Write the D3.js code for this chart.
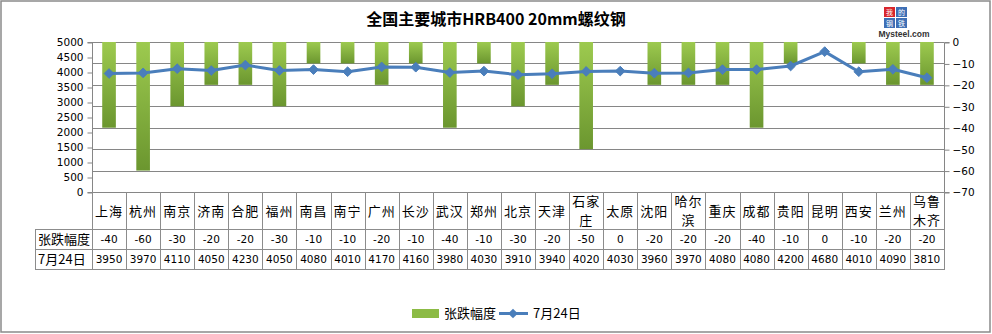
<!DOCTYPE html>
<html>
<head>
<meta charset="utf-8">
<script src="https://cdn.jsdelivr.net/npm/d3@7"></script>
<style>
  html, body { margin: 0; padding: 0; background: #fff; }
  svg { display: block; }
  .num { font-family: "DejaVu Sans", sans-serif; font-size: 10.5px; fill: #000; }
  .cjk { font-family: "Noto Sans CJK SC", sans-serif; font-size: 13px; fill: #000; }
</style>
</head>
<body>
<svg id="chart" width="992" height="334"></svg>
<script>
// Cities along the category axis
const cities = ["上海","杭州","南京","济南","合肥","福州","南昌","南宁","广州","长沙","武汉","郑州","北京","天津","石家庄","太原","沈阳","哈尔滨","重庆","成都","贵阳","昆明","西安","兰州","乌鲁木齐"];
// Daily change (right axis, bars)
const changes = [-40,-60,-30,-20,-20,-30,-10,-10,-20,-10,-40,-10,-30,-20,-50,0,-20,-20,-20,-40,-10,0,-10,-20,-20];
// Price on 7月24日 (left axis, line)
const prices = [3950,3970,4110,4050,4230,4050,4080,4010,4170,4160,3980,4030,3910,3940,4020,4030,3960,3970,4080,4080,4200,4680,4010,4090,3810];
// Axis ticks
const leftTicks = [0,500,1000,1500,2000,2500,3000,3500,4000,4500,5000];
const rightTicks = [0,-10,-20,-30,-40,-50,-60,-70];
const seriesNames = ["张跌幅度", "7月24日"];
const titleText = "全国主要城市HRB400 20mm螺纹钢";

const svg = d3.select("#chart");
const plot = { left: 92, right: 944, top: 42, bottom: 192 };
const rowY = [192, 229, 249, 269];
const tableLeft = 35;
const gridColor = "#868686";
const lineColor = "#4a7ebb";

const x = d3.scaleBand().domain(cities).range([plot.left, plot.right]).padding(0);
const yL = d3.scaleLinear().domain([0, 5000]).range([plot.bottom, plot.top]);
const yR = d3.scaleLinear().domain([-70, 0]).range([plot.bottom, plot.top]);

// Outer frame
svg.append("rect").attr("x", 1).attr("y", 1).attr("width", 989).attr("height", 331)
  .attr("fill", "#fff").attr("stroke", "#8a8a8a").attr("stroke-width", 1.5);

// Bar gradient
const defs = svg.append("defs");
const grad = defs.append("linearGradient").attr("id", "barGrad")
  .attr("x1", 0).attr("y1", 0).attr("x2", 0).attr("y2", 1);
grad.append("stop").attr("offset", "0%").attr("stop-color", "#9dca4f");
grad.append("stop").attr("offset", "100%").attr("stop-color", "#6b962f");

// Title
svg.append("text").attr("x", 496).attr("y", 25).attr("text-anchor", "middle")
  .attr("font-family", "Noto Sans CJK SC, sans-serif").attr("font-size", 16)
  .attr("font-weight", "bold").text(titleText);

// Logo
const logo = svg.append("g").attr("transform", "translate(884,7)");
[["我", "#d8262c", 0, 0], ["的", "#3e6fb5", 12, 0], ["钢", "#3e6fb5", 0, 11], ["铁", "#3e6fb5", 12, 11]].forEach(d => {
  logo.append("rect").attr("x", d[2]).attr("y", d[3]).attr("width", 11).attr("height", 10).attr("fill", d[1]);
  logo.append("text").attr("x", d[2] + 5.5).attr("y", d[3] + 7.5).attr("text-anchor", "middle")
    .attr("font-family", "Noto Sans CJK SC, sans-serif").attr("font-size", 7).attr("fill", "#fff").text(d[0]);
});
svg.append("text").attr("x", 904).attr("y", 37).attr("text-anchor", "middle")
  .attr("font-family", "Liberation Sans, sans-serif").attr("font-size", 8.5).attr("font-weight", "bold")
  .attr("fill", "#333").text("Mysteel.com");

// Horizontal gridlines on the right-axis ticks
svg.append("g").selectAll("line").data(rightTicks).join("line")
  .attr("x1", plot.left).attr("x2", plot.right)
  .attr("y1", d => Math.round(yR(d)) + 0.5).attr("y2", d => Math.round(yR(d)) + 0.5)
  .attr("stroke", gridColor).attr("stroke-width", 1);

// Bars hang from 0 on the reversed right axis
const bw = x.bandwidth() * 0.4;
svg.append("g").selectAll("rect").data(changes).join("rect")
  .attr("x", (d, i) => x(cities[i]) + (x.bandwidth() - bw) / 2)
  .attr("y", yR(0))
  .attr("width", bw)
  .attr("height", d => yR(d) - yR(0))
  .attr("fill", "url(#barGrad)");

// Left axis
const axL = d3.axisLeft(yL).tickValues(leftTicks).tickSize(5).tickPadding(4).tickFormat(d3.format("d"));
const gL = svg.append("g").attr("transform", `translate(${plot.left + 0.5},0.5)`).call(axL);
gL.selectAll("path,line").attr("stroke", gridColor);
gL.selectAll("text").attr("class", "num").attr("font-family", null).attr("font-size", null);

// Right axis
const axR = d3.axisRight(yR).tickValues(rightTicks).tickSize(5).tickPadding(3).tickFormat(d3.format("d"));
const gR = svg.append("g").attr("transform", `translate(${plot.right + 0.5},0.5)`).call(axR);
gR.selectAll("path,line").attr("stroke", gridColor);
gR.selectAll("text").attr("class", "num").attr("font-family", null).attr("font-size", null);
gR.select(".domain").attr("d", `M5,${yR(0)}H0V${yR(-70)}H5`);
gL.select(".domain").attr("d", `M-5,${yL(5000)}H0V${yL(0)}H-5`);

// Price line with diamond markers
const line = d3.line().x((d, i) => x(cities[i]) + x.bandwidth() / 2).y(d => yL(d));
svg.append("path").datum(prices).attr("d", line)
  .attr("fill", "none").attr("stroke", lineColor).attr("stroke-width", 3).attr("stroke-linejoin", "round");
const diamond = d3.symbol().type(d3.symbolDiamond2).size(60);
svg.append("g").selectAll("path").data(prices).join("path")
  .attr("transform", (d, i) => `translate(${x(cities[i]) + x.bandwidth() / 2},${yL(d)})`)
  .attr("d", diamond).attr("fill", lineColor).attr("stroke", lineColor).attr("stroke-width", 1);

// Data table beneath the plot
const tbl = svg.append("g").attr("stroke", "#8c8c8c").attr("stroke-width", 1);
const bounds = cities.map(c => x(c)).concat([plot.right]);
bounds.forEach(bx => {
  tbl.append("line").attr("x1", Math.round(bx) + 0.5).attr("x2", Math.round(bx) + 0.5)
    .attr("y1", rowY[0]).attr("y2", rowY[3]);
});
tbl.append("line").attr("x1", tableLeft + 0.5).attr("x2", tableLeft + 0.5).attr("y1", rowY[1]).attr("y2", rowY[3]);
[rowY[1], rowY[2], rowY[3]].forEach(ry => {
  tbl.append("line").attr("x1", tableLeft).attr("x2", plot.right + 1).attr("y1", ry + 0.5).attr("y2", ry + 0.5);
});

// City header cells (long names wrap after two characters)
const hdr = svg.append("g");
cities.forEach(c => {
  const cx = x(c) + x.bandwidth() / 2;
  const parts = c.length > 2 ? [c.slice(0, 2), c.slice(2)] : [c];
  const mid = (rowY[0] + rowY[1]) / 2;
  const t = hdr.append("text").attr("class", "cjk").attr("x", cx)
    .attr("y", parts.length === 1 ? mid + 5 : mid - 4.5)
    .attr("text-anchor", "middle").attr("letter-spacing", 1);
  parts.forEach((p, k) => {
    t.append("tspan").attr("x", cx).attr("dy", k === 0 ? 0 : 19).text(p);
  });
});

// Row labels and values
const rows = [changes, prices];
rows.forEach((vals, r) => {
  const cy = (rowY[r + 1] + rowY[r + 2]) / 2 + 4;
  svg.append("text").attr("class", "cjk").attr("x", tableLeft + 3).attr("y", cy + 0.5).text(seriesNames[r]);
  svg.append("g").selectAll("text").data(vals).join("text")
    .attr("class", "num")
    .attr("x", (d, i) => x(cities[i]) + x.bandwidth() / 2)
    .attr("y", cy).attr("text-anchor", "middle").text(d => d);
});

// Legend
const lg = svg.append("g");
lg.append("rect").attr("x", 412).attr("y", 309).attr("width", 27).attr("height", 9).attr("fill", "#8cbb45");
lg.append("text").attr("class", "cjk").attr("x", 444).attr("y", 318).text(seriesNames[0]);
lg.append("line").attr("x1", 499).attr("x2", 528).attr("y1", 313.5).attr("y2", 313.5)
  .attr("stroke", lineColor).attr("stroke-width", 3);
lg.append("path").attr("transform", "translate(513,313.5)").attr("d", diamond).attr("fill", lineColor);
lg.append("text").attr("class", "cjk").attr("x", 533).attr("y", 318).text(seriesNames[1]);
</script>
</body>
</html>
